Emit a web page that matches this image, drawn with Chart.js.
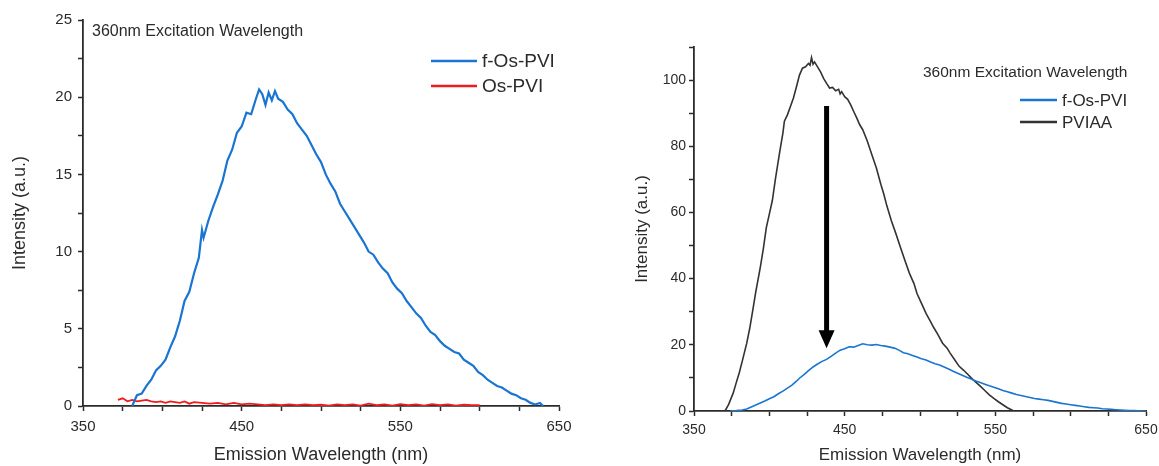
<!DOCTYPE html>
<html>
<head>
<meta charset="utf-8">
<script src="https://cdn.jsdelivr.net/npm/chart.js@4.4.0/dist/chart.umd.min.js"></script>
<style>
  html, body { margin: 0; padding: 0; background: #fff; }
  #wrap { position: relative; width: 1159px; height: 466px; }
  .box { position: absolute; top: 0; height: 466px; }
  #boxA { left: 0; width: 600px; }
  #boxB { left: 600px; width: 559px; }
</style>
</head>
<body>
<div id="wrap">
  <div class="box" id="boxA"><canvas id="chartA"></canvas></div>
  <div class="box" id="boxB"><canvas id="chartB"></canvas></div>
</div>
<script>
// left panel: f-Os-PVI vs Os-PVI
var fosWlA = [381, 384, 387, 390, 393, 396, 399, 402, 405, 408, 411, 414, 417, 420, 423, 425, 426, 429, 432, 435,
  438, 441, 444, 447, 450, 453, 456, 459, 461, 463, 465, 467, 469, 471, 473, 476, 479, 482, 485, 488,
  491, 494, 497, 500, 503, 506, 509, 512, 515, 518, 521, 524, 527, 530, 533, 536, 539, 542, 545, 548,
  551, 554, 557, 560, 563, 566, 569, 572, 575, 578, 581, 584, 587, 590, 593, 596, 599, 602, 605, 608,
  611, 614, 617, 620, 623, 626, 629, 632, 635, 638, 640];
var fosIntA = [0, 0.7, 0.8, 1.3, 1.7, 2.3, 2.6, 3.0, 3.8, 4.5, 5.5, 6.8, 7.4, 8.6, 9.6, 11.4, 10.9, 12.0, 12.9, 13.7,
  14.6, 15.9, 16.6, 17.7, 18.1, 19.0, 18.9, 19.9, 20.5, 20.2, 19.5, 20.3, 19.8, 20.4, 19.9, 19.7, 19.2, 18.9, 18.3, 17.9,
  17.5, 16.9, 16.3, 15.8, 15.0, 14.4, 13.9, 13.1, 12.6, 12.1, 11.6, 11.1, 10.6, 10.0, 9.8, 9.3, 8.9, 8.6, 8.0, 7.6,
  7.3, 6.8, 6.4, 6.0, 5.7, 5.2, 4.8, 4.6, 4.2, 3.9, 3.7, 3.5, 3.4, 3.0, 2.8, 2.6, 2.2, 2.0, 1.7, 1.5,
  1.3, 1.2, 1.0, 0.8, 0.7, 0.5, 0.4, 0.2, 0.1, 0.2, 0];
var osWl = [372, 375, 378, 381, 384, 387, 390, 393, 396, 399, 402, 405, 408, 411, 414, 417, 420, 425, 430, 435,
  440, 445, 450, 455, 460, 465, 470, 475, 480, 485, 490, 495, 500, 505, 510, 515, 520, 525, 530, 535,
  540, 545, 550, 555, 560, 565, 570, 575, 580, 585, 590, 595, 600];
var osInt = [0.4, 0.5, 0.3, 0.4, 0.3, 0.35, 0.4, 0.3, 0.25, 0.3, 0.2, 0.3, 0.25, 0.2, 0.3, 0.15, 0.25, 0.2, 0.15, 0.2,
  0.1, 0.2, 0.1, 0.15, 0.1, 0.05, 0.1, 0.05, 0.1, 0.05, 0.1, 0.05, 0.08, 0.02, 0.1, 0.05, 0.1, 0.03, 0.15, 0.05,
  0.1, 0.02, 0.12, 0.05, 0.1, 0.03, 0.12, 0.05, 0.1, 0.02, 0.08, 0.05, 0.05];

// right panel: f-Os-PVI vs PVIAA
var fosWlB = [374, 378, 382, 385, 388, 391, 394, 397, 400, 403, 406, 409, 412, 415, 418, 420, 423, 426, 429, 432,
  435, 438, 441, 444, 447, 450, 453, 456, 459, 462, 465, 468, 471, 474, 477, 480, 483, 486, 489, 492,
  495, 498, 501, 504, 507, 510, 513, 516, 519, 522, 525, 528, 531, 534, 537, 540, 543, 546, 549, 552,
  555, 558, 561, 564, 567, 570, 573, 576, 579, 582, 585, 588, 591, 594, 597, 600, 603, 606, 609, 612,
  615, 618, 621, 624, 627, 630, 633, 636, 639, 642, 645, 650];
var fosIntB = [0, 0.1, 0.3, 0.6, 1.2, 1.8, 2.4, 3.0, 3.7, 4.3, 5.2, 6.0, 6.9, 7.8, 9.0, 9.9, 11.0, 12.2, 13.3, 14.2,
  15.0, 15.6, 16.5, 17.5, 18.4, 18.8, 19.4, 19.3, 19.8, 20.3, 20.0, 19.9, 20.1, 19.8, 19.6, 19.3, 19.0, 18.4, 17.6, 17.3,
  16.8, 16.3, 15.8, 15.4, 14.8, 14.3, 13.9, 13.3, 12.7, 12.0, 11.4, 10.8, 10.2, 9.7, 9.1, 8.6, 8.1, 7.6, 7.2, 6.7,
  6.2, 5.8, 5.4, 5.0, 4.7, 4.4, 4.1, 3.8, 3.6, 3.4, 3.2, 2.9, 2.6, 2.3, 2.1, 1.9, 1.7, 1.5, 1.3, 1.1,
  1.0, 0.9, 0.7, 0.6, 0.5, 0.4, 0.3, 0.2, 0.1, 0.1, 0.05, 0];
var pviaaWl = [370.6, 373, 376, 378, 380, 382, 385, 387, 389, 391, 394, 396, 398, 400, 402, 404, 407, 409, 410, 412,
  414, 416, 418, 420, 422, 424, 426, 427, 428, 429, 430, 432, 434, 436, 438, 440, 442, 444, 446, 447,
  448, 450, 452, 454, 456, 458, 460, 462, 465, 468, 471, 474, 476, 478, 481, 484, 487, 490, 493, 496,
  498, 501, 504, 507, 509, 512, 515, 518, 520, 523, 526, 529, 531, 534, 537, 540, 543, 546, 549, 552,
  555, 558, 561, 562];
var pviaaInt = [0, 2, 5.4, 8.5, 11.5, 15, 20.5, 25, 30.4, 36, 43.4, 49, 55.4, 59.5, 63.6, 70, 78.6, 84, 87.6, 89.5,
  92, 94.6, 98, 101.5, 103.6, 104, 105, 104.5, 106.8, 104.8, 105.5, 104, 102.5, 100.5, 99, 97.6, 97.8, 96.8, 97.2, 95.8,
  96.5, 95, 94.2, 92.5, 90.5, 88.6, 86.5, 85, 81.6, 77.5, 73.5, 68.5, 65.5, 62, 57.5, 53.6, 49.5, 45.5, 41.6, 38.5,
  35.5, 32.5, 29.5, 27, 25.3, 23, 20.5, 19, 17.5, 15.5, 13.5, 12.3, 11.4, 10, 8.7, 7.5, 6.2, 4.9, 3.8, 2.8,
  1.9, 1.0, 0.3, 0];

var xTickLabels = [350, 450, 550, 650];
var yTickLabelsA = [0, 5, 10, 15, 20, 25];
var yTickLabelsB = [0, 20, 40, 60, 80, 100];

var FONT = '"Liberation Sans", Arial, sans-serif';
var INK = '#2b2b2b';
var BLUE = '#1a74d2';
var RED = '#ee1c1c';
var BLACK = '#333333';

function pts(xs, ys) {
  return xs.map(function (x, i) { return { x: x, y: ys[i] }; });
}

function axisBase() {
  return {
    grid: { drawOnChartArea: false, drawTicks: true, tickLength: 5, color: INK, tickWidth: 1.5 },
    border: { display: true, color: INK, width: 1.8 }
  };
}

// notes + legend drawn inside the plot
var notes = {
  id: 'notes',
  afterDraw: function (chart, args, o) {
    var ctx = chart.ctx, a = chart.chartArea;
    ctx.save();
    ctx.fillStyle = INK;
    ctx.textBaseline = 'middle';
    ctx.textAlign = 'left';
    ctx.font = o.titleSize + 'px ' + FONT;
    ctx.fillText(o.title, a.left + o.titleDx, a.top + o.titleDy);
    ctx.font = o.legSize + 'px ' + FONT;
    chart.data.datasets.forEach(function (d, i) {
      var x = a.left + o.legDx, y = a.top + o.legDy + i * o.legGap;
      ctx.strokeStyle = d.borderColor;
      ctx.lineWidth = 2.5;
      ctx.beginPath();
      ctx.moveTo(x, y);
      ctx.lineTo(x + o.legLine, y);
      ctx.stroke();
      ctx.fillText(d.label, x + o.legLine + 5, y + 1);
    });
    ctx.restore();
  }
};

var arrow = {
  id: 'arrow',
  afterDatasetsDraw: function (chart, args, o) {
    if (!o.on) return;
    var ctx = chart.ctx, sx = chart.scales.x, sy = chart.scales.y;
    var x = sx.getPixelForValue(o.at), y1 = sy.getPixelForValue(o.from), y2 = sy.getPixelForValue(o.to);
    ctx.save();
    ctx.strokeStyle = '#000';
    ctx.fillStyle = '#000';
    ctx.lineWidth = 5;
    ctx.beginPath();
    ctx.moveTo(x, y1);
    ctx.lineTo(x, y2 - 16);
    ctx.stroke();
    ctx.beginPath();
    ctx.moveTo(x - 8, y2 - 18);
    ctx.lineTo(x + 8, y2 - 18);
    ctx.lineTo(x, y2);
    ctx.closePath();
    ctx.fill();
    ctx.restore();
  }
};

function makeChart(id, cfg) {
  var xAx = axisBase();
  xAx.type = 'linear';
  xAx.min = 350; xAx.max = 650;
  xAx.ticks = {
    stepSize: 25, autoSkip: false, maxRotation: 0, color: INK, padding: cfg.xPad,
    font: { family: FONT, size: cfg.tickSize },
    callback: function (v) { return xTickLabels.indexOf(v) >= 0 ? String(v) : ''; }
  };
  xAx.title = { display: true, text: 'Emission Wavelength (nm)', color: INK,
    font: { family: FONT, size: cfg.titleSize }, padding: { top: 0, bottom: cfg.xTitleBottom } };
  xAx.afterFit = function (s) { s.height = cfg.xHeight; s.paddingRight = 0; s.paddingLeft = 0; };

  var yAx = axisBase();
  yAx.min = 0; yAx.max = cfg.yMax;
  yAx.ticks = {
    stepSize: cfg.yStep, autoSkip: false, color: INK, padding: cfg.yPad,
    font: { family: FONT, size: cfg.tickSize },
    callback: function (v) { return cfg.yLabels.indexOf(v) >= 0 ? String(v) : ''; }
  };
  yAx.title = { display: true, text: 'Intensity (a.u.)', color: INK,
    font: { family: FONT, size: cfg.titleSize }, padding: { top: cfg.yTitleTop, bottom: 0 } };
  yAx.afterFit = function (s) { s.width = cfg.yWidth; s.paddingTop = 0; s.paddingBottom = 0; };

  return new Chart(document.getElementById(id), {
    type: 'line',
    data: { datasets: cfg.datasets },
    options: {
      responsive: true,
      maintainAspectRatio: false,
      animation: false,
      layout: { padding: cfg.padding },
      elements: { point: { radius: 0 }, line: { tension: 0 } },
      scales: { x: xAx, y: yAx },
      plugins: {
        legend: { display: false },
        tooltip: { enabled: false },
        notes: cfg.notes,
        arrow: cfg.arrow || { on: false }
      }
    },
    plugins: [notes, arrow]
  });
}

makeChart('chartA', {
  datasets: [
    { label: 'f-Os-PVI', data: pts(fosWlA, fosIntA), borderColor: BLUE, borderWidth: 2.2 },
    { label: 'Os-PVI', data: pts(osWl, osInt), borderColor: RED, borderWidth: 1.8 }
  ],
  yMax: 25, yStep: 2.5, yLabels: yTickLabelsA,
  tickSize: 15, titleSize: 18, xPad: 7, yPad: 6,
  xHeight: 60, yWidth: 83, xTitleBottom: 0, yTitleTop: 9,
  padding: { top: 20, right: 41, left: 0, bottom: 0 },
  notes: { title: '360nm Excitation Wavelength', titleSize: 16, titleDx: 9, titleDy: 12,
    legSize: 19, legDx: 348, legDy: 41, legGap: 25, legLine: 46 }
});

makeChart('chartB', {
  datasets: [
    { label: 'f-Os-PVI', data: pts(fosWlB, fosIntB), borderColor: BLUE, borderWidth: 1.6 },
    { label: 'PVIAA', data: pts(pviaaWl, pviaaInt), borderColor: BLACK, borderWidth: 1.6 }
  ],
  yMax: 110, yStep: 10, yLabels: yTickLabelsB,
  tickSize: 14, titleSize: 17, xPad: 6, yPad: 3,
  xHeight: 55, yWidth: 94, xTitleBottom: 0, yTitleTop: 32,
  padding: { top: 47, right: 13, left: 0, bottom: 0 },
  notes: { title: '360nm Excitation Wavelength', titleSize: 15.5, titleDx: 229, titleDy: 26,
    legSize: 17, legDx: 326, legDy: 53, legGap: 22, legLine: 37 },
  arrow: { on: true, at: 438, from: 92.2, to: 19 }
});
</script>
</body>
</html>
